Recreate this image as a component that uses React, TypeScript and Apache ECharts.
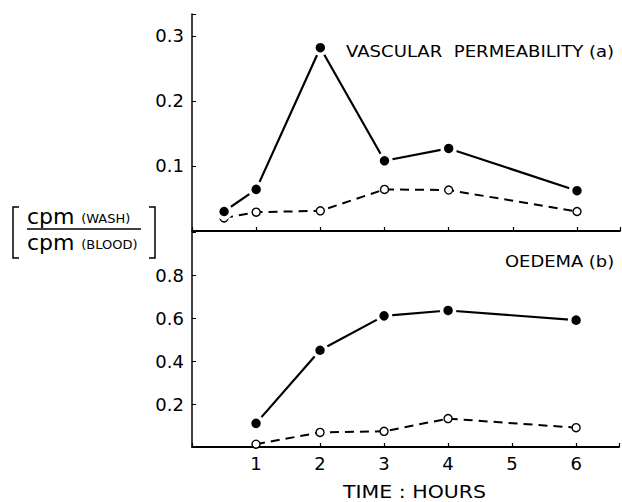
import React, { useEffect, useRef } from "react";
import * as echarts from "echarts";

const hoursA = [0.5, 1, 2, 3, 4, 6];
const vascFilled = [0.03, 0.064, 0.282, 0.108, 0.127, 0.062];
const vascOpen = [0.02, 0.029, 0.031, 0.064, 0.063, 0.03];

const hoursB = [1, 2, 3, 4, 6];
const oedFilled = [0.11, 0.45, 0.61, 0.635, 0.59];
const oedOpen = [0.013, 0.068, 0.073, 0.132, 0.09];

const xTicks = ["1", "2", "3", "4", "5", "6"];
const topTitle = "VASCULAR  PERMEABILITY (a)";
const bottomTitle = "OEDEMA (b)";
const xTitle = "TIME : HOURS";

const FONT = "DejaVu Sans";

export default function App() {
  const ref = useRef<HTMLDivElement>(null);
  useEffect(() => {
    const chart = echarts.init(ref.current!, undefined, { renderer: "svg" });
    const pair = (xs: number[], ys: number[]) => xs.map((x, i) => [x, ys[i]]);
    const filledStyle = {
      type: "line",
      symbol: "circle",
      symbolSize: 13,
      lineStyle: { color: "#000", width: 2.2, type: "solid" },
      itemStyle: { color: "#000", borderColor: "#fff", borderWidth: 3.5 },
    };
    const openStyle = {
      type: "line",
      symbol: "circle",
      symbolSize: 8,
      lineStyle: { color: "#000", width: 2, type: [9, 6] },
      itemStyle: { color: "#fff", borderColor: "#000", borderWidth: 1.4 },
    };
    const axisCommonX = {
      type: "value",
      min: 0,
      max: 6.67,
      interval: 1,
      splitLine: { show: false },
      axisLine: { show: true, onZero: false, lineStyle: { color: "#000", width: 1.8 } },
      axisTick: { show: true, inside: true, length: 4, lineStyle: { color: "#000", width: 1.2 } },
    };
    const richFrac = {
      a: { fontFamily: FONT, fontSize: 22, fill: "#000", lineHeight: 26, verticalAlign: "middle" },
      b: { fontFamily: FONT, fontSize: 13, fill: "#000", lineHeight: 26, verticalAlign: "middle", padding: [5, 0, 0, 0] },
    };
    chart.setOption({
      animation: false,
      backgroundColor: "#fff",
      grid: [
        { left: 192, top: 14, width: 428, height: 217 },
        { left: 192, top: 232, width: 428, height: 215 },
      ],
      xAxis: [
        { ...axisCommonX, gridIndex: 0, axisLabel: { show: false } },
        {
          ...axisCommonX,
          gridIndex: 1,
          axisLabel: {
            show: true,
            margin: 7,
            color: "#000",
            fontFamily: FONT,
            fontSize: 18,
            formatter: (v: number) => (v >= 1 && v <= 6 ? xTicks[v - 1] : ""),
          },
        },
      ],
      yAxis: [
        {
          type: "value",
          gridIndex: 0,
          min: 0,
          max: 0.3338,
          interval: 0.1,
          splitLine: { show: false },
          axisLine: { show: true, lineStyle: { color: "#000", width: 1.5 } },
          axisTick: { show: true, inside: true, length: 4, lineStyle: { color: "#000" } },
          axisLabel: {
            margin: 8,
            color: "#000",
            fontFamily: FONT,
            fontSize: 18,
            formatter: (v: number) => (v > 0.05 && v < 0.33 ? v.toFixed(1) : ""),
          },
        },
        {
          type: "value",
          gridIndex: 1,
          min: 0,
          max: 1.0,
          interval: 0.2,
          splitLine: { show: false },
          axisLine: { show: true, lineStyle: { color: "#000", width: 1.5 } },
          axisTick: { show: true, inside: true, length: 4, lineStyle: { color: "#000" } },
          axisLabel: {
            margin: 8,
            color: "#000",
            fontFamily: FONT,
            fontSize: 18,
            formatter: (v: number) => (v > 0.1 && v < 0.9 ? v.toFixed(1) : ""),
          },
        },
      ],
      series: [
        { ...openStyle, xAxisIndex: 0, yAxisIndex: 0, data: pair(hoursA, vascOpen), z: 2 },
        { ...filledStyle, xAxisIndex: 0, yAxisIndex: 0, data: pair(hoursA, vascFilled), z: 3 },
        { ...openStyle, xAxisIndex: 1, yAxisIndex: 1, data: pair(hoursB, oedOpen), z: 2 },
        { ...filledStyle, xAxisIndex: 1, yAxisIndex: 1, data: pair(hoursB, oedFilled), z: 3 },
      ],
      graphic: [
        {
          type: "text",
          x: 346,
          y: 43,
          scaleX: 1.13,
          style: { text: topTitle, fontFamily: FONT, fontSize: 16, fill: "#000" },
        },
        {
          type: "text",
          x: 505,
          y: 253,
          scaleX: 1.12,
          style: { text: bottomTitle, fontFamily: FONT, fontSize: 16, fill: "#000" },
        },
        {
          type: "text",
          x: 343,
          y: 483,
          scaleX: 1.14,
          style: { text: xTitle, fontFamily: FONT, fontSize: 18, fill: "#000" },
        },
        {
          type: "text",
          x: 27,
          y: 203,
          style: { text: "{a|cpm}  {b|(WASH)}", rich: richFrac },
        },
        {
          type: "text",
          x: 27,
          y: 229,
          style: { text: "{a|cpm}  {b|(BLOOD)}", rich: richFrac },
        },
        {
          type: "line",
          shape: { x1: 27, y1: 229, x2: 141, y2: 229 },
          style: { stroke: "#000", lineWidth: 1.5 },
        },
        {
          type: "polyline",
          shape: { points: [[19, 207], [13, 207], [13, 258], [19, 258]] },
          style: { stroke: "#000", lineWidth: 1.5, fill: "none" },
        },
        {
          type: "polyline",
          shape: { points: [[149, 207], [155, 207], [155, 258], [149, 258]] },
          style: { stroke: "#000", lineWidth: 1.5, fill: "none" },
        },
      ],
    });
    return () => chart.dispose();
  }, []);
  return <div ref={ref} style={{ width: 622, height: 502, position: "absolute", left: 0, top: 0 }} />;
}
